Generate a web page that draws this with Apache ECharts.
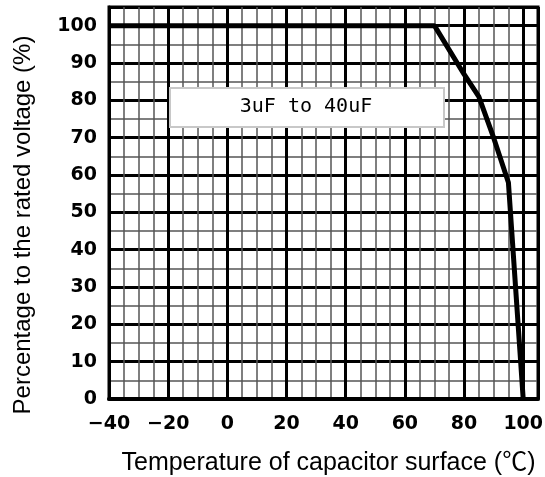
<!DOCTYPE html>
<html>
<head>
<meta charset="utf-8">
<script src="https://cdn.jsdelivr.net/npm/echarts@6/dist/echarts.min.js"></script>
<style>html,body{margin:0;padding:0;background:#fff;}#c{width:545px;height:477px;}</style>
</head>
<body>
<div id="c"></div>
<script>
// Data
const temps = [-40, 70, 80, 85, 90, 95, 100];
const voltagePct = [100, 100, 87, 81, 70, 58, 0];
const xTicks = [-40, -20, 0, 20, 40, 60, 80, 100];
const yTicks = [0, 10, 20, 30, 40, 50, 60, 70, 80, 90, 100];
const boxLabel = '3uF to 40uF';
const xTitle = 'Temperature of capacitor surface (℃)';
const yTitle = 'Percentage to the rated voltage (%)';

const chart = echarts.init(document.getElementById('c'), null, {renderer: 'canvas'});
const FONT = '"Liberation Sans", Arial, "Noto Sans CJK JP", sans-serif';
const TICKFONT = '"DejaVu Sans", sans-serif';
const majorLine = {show: true, lineStyle: {color: '#000', width: 3}};
const minorLine = {show: true, lineStyle: {color: '#555', width: 1.5}};
const hidden = {axisLine: {show: false}, axisTick: {show: false}, axisLabel: {show: false}};

const option = {
  animation: false,
  grid: {left: 109, right: 7, top: 7, bottom: 78, outerBoundsMode: 'none', containLabel: false,
         show: true, borderColor: '#000', borderWidth: 3, backgroundColor: '#fff'},
  xAxis: [
    Object.assign({type: 'value', position: 'bottom', min: -40, max: 105, interval: 5, splitLine: minorLine}, hidden),
    {
      type: 'value', position: 'bottom', min: -40, max: 105, interval: 20,
      axisLine: {show: true, onZero: false, lineStyle: {color: '#000', width: 4}},
      axisTick: {show: false},
      splitLine: majorLine,
      axisLabel: {
        show: true, color: '#000', fontSize: 19, fontWeight: 'bold', fontFamily: TICKFONT, margin: 16,
        formatter: function (v) { return xTicks.indexOf(v) >= 0 ? String(v).replace('-', '\u2212') : ''; }
      },
      name: xTitle, nameLocation: 'middle', nameGap: 52,
      nameTextStyle: {color: '#000', fontSize: 25, fontFamily: FONT, padding: [0, 0, 0, 10]}
    }
  ],
  yAxis: [
    Object.assign({type: 'value', position: 'left', min: 0, max: 105, interval: 5, splitLine: minorLine}, hidden),
    {
      type: 'value', position: 'left', min: 0, max: 105, interval: 10,
      axisLine: {show: true, onZero: false, lineStyle: {color: '#000', width: 3}},
      axisTick: {show: false},
      splitLine: majorLine,
      axisLabel: {
        show: true, color: '#000', fontSize: 19, fontWeight: 'bold', fontFamily: TICKFONT, margin: 12,
        formatter: function (v) { return yTicks.indexOf(v) >= 0 ? String(v) : ''; }
      },
      name: yTitle, nameLocation: 'middle', nameGap: 74, nameRotate: 90,
      nameTextStyle: {color: '#000', fontSize: 24, fontFamily: FONT, padding: [0, 44, 0, 0]}
    }
  ],
  series: [{
    type: 'line', xAxisIndex: 1, yAxisIndex: 1,
    data: temps.map((t, i) => [t, voltagePct[i]]),
    symbol: 'none', lineStyle: {color: '#000', width: 5}, z: 5
  }],
  graphic: [
    {type: 'rect', z: 100, left: 169, top: 87, shape: {width: 274, height: 39}, style: {fill: '#fff', stroke: '#c8c8c8', lineWidth: 2}},
    {type: 'text', z: 101, x: 306, y: 107, style: {text: boxLabel, fill: '#000', font: '20px "DejaVu Sans Mono", monospace', align: 'center', verticalAlign: 'middle'}}
  ]
};
chart.setOption(option);
</script>
</body>
</html>
